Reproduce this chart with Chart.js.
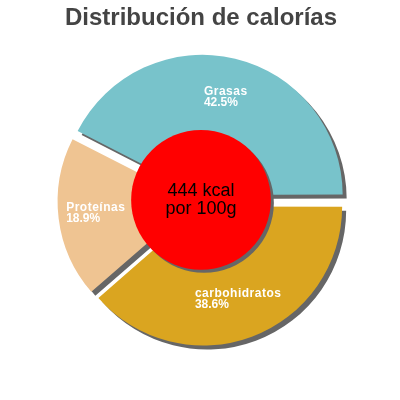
<!DOCTYPE html>
<html>
<head>
<meta charset="utf-8">
<script src="https://cdn.jsdelivr.net/npm/chart.js@4"></script>
<style>
  html, body { margin: 0; padding: 0; background: #fff; }
  #wrap { width: 400px; height: 400px; }
</style>
</head>
<body>
<div id="wrap"><canvas id="calorias-chart" width="400" height="400"></canvas></div>
<script>
// Datos (orden horario desde las 3 en punto)
const categorias = ["carbohidratos", "Proteínas", "Grasas"];
const porcentajes = [38.6, 18.9, 42.5];
const colores = ["#daa520", "#efc492", "#78c3cb"];
const textoCentro = ["444 kcal", "por 100g"];
const titulo = "Distribución de calorías";

const OFFSET = 24; // Chart.js desplaza offset/4 px

// Sombra bajo los sectores
const sombra = {
    id: "sombra",
    beforeDatasetsDraw(chart) {
        const ctx = chart.ctx;
        ctx.save();
        ctx.shadowColor = "#666666";
        ctx.shadowOffsetX = 4;
        ctx.shadowOffsetY = 4;
        ctx.shadowBlur = 0;
    },
    afterDatasetsDraw(chart) {
        chart.ctx.restore();
    }
};

// Circulo rojo central y etiquetas
const etiquetas = {
    id: "etiquetas",
    afterDatasetsDraw(chart) {
        const ctx = chart.ctx;
        const arcs = chart.getDatasetMeta(0).data;
        const x0 = arcs[0].x, y0 = arcs[0].y;
        const R = arcs[0].outerRadius;

        // circulo central
        ctx.save();
        ctx.shadowColor = "#666666";
        ctx.shadowOffsetX = 3;
        ctx.shadowOffsetY = 3;
        ctx.beginPath();
        ctx.arc(x0, y0 - 1, R * 0.51, 0, Math.PI * 2);
        ctx.fillStyle = "#ff0000";
        ctx.fill();
        ctx.restore();

        ctx.save();
        ctx.fillStyle = "#000";
        ctx.font = "18px 'Liberation Sans', Arial, sans-serif";
        ctx.textAlign = "center";
        ctx.textBaseline = "alphabetic";
        ctx.fillText(textoCentro[0], x0, y0 - 5);
        ctx.fillText(textoCentro[1], x0, y0 + 13);
        ctx.restore();

        // etiquetas de los sectores
        ctx.save();
        ctx.fillStyle = "#fff";
        ctx.textAlign = "left";
        arcs.forEach((a, i) => {
            const mid = (a.startAngle + a.endAngle) / 2;
            const d = OFFSET / 4;
            const r = a.outerRadius * 0.73;
            const ax = a.x + Math.cos(mid) * (d + r);
            const ay = a.y + Math.sin(mid) * (d + r);
            ctx.font = "bold 12px 'Liberation Sans', Arial, sans-serif";
            ctx.letterSpacing = "0.5px";
            const w = ctx.measureText(categorias[i]).width;
            const left = ax - w / 2;
            ctx.fillText(categorias[i], left, ay - 3);
            ctx.letterSpacing = "0px";
            ctx.fillText(porcentajes[i].toFixed(1) + "%", left, ay + 8);
        });
        ctx.restore();
    }
};

const ctx_cal = document.getElementById("calorias-chart").getContext("2d");

new Chart(ctx_cal, {
    type: "pie",
    data: {
        labels: categorias,
        datasets: [
            {
                data: porcentajes,
                backgroundColor: colores,
                borderWidth: 0,
                offset: OFFSET,
            },
        ],
    },
    options: {
        responsive: false,
        animation: false,
        events: [],
        rotation: 90,
        radius: 137,
        layout: { padding: { left: 2, right: 0, top: 0, bottom: 31 } },
        plugins: {
            legend: { display: false },
            tooltip: { enabled: false },
            title: {
                display: true,
                text: titulo,
                color: "#444444",
                font: { family: "'Liberation Sans', Arial, sans-serif", size: 24, weight: "bold" },
                padding: { top: 4, bottom: 0 },
            },
        },
    },
    plugins: [sombra, etiquetas],
});
</script>
</body>
</html>
